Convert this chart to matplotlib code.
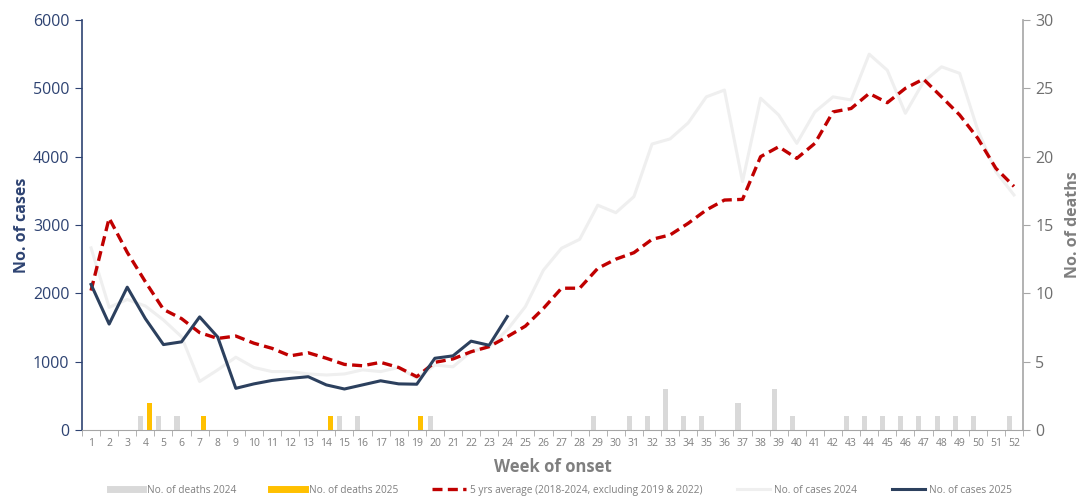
import matplotlib
matplotlib.use("Agg")
import matplotlib.pyplot as plt
from matplotlib.lines import Line2D
import numpy as np

plt.rcParams['font.family'] = ['Open Sans', 'DejaVu Sans']

weeks = list(range(1, 53))

cases_2025 = [2130, 1550, 2090, 1630, 1250, 1290, 1655, 1360, 610, 675,
              725, 755, 780, 660, 600, 660, 720, 675, 670, 1050,
              1085, 1300, 1240, 1660]

avg_5yr = [2040, 3100, 2600, 2170, 1765, 1630, 1425, 1340, 1375, 1270,
           1195, 1085, 1130, 1050, 960, 940, 990, 915, 780, 990,
           1040, 1145, 1220, 1365, 1520, 1780, 2075, 2075, 2365, 2500,
           2595, 2790, 2855, 3025, 3220, 3365, 3375, 4000, 4145, 3975,
           4195, 4655, 4705, 4925, 4790, 5000, 5135, 4875, 4610, 4270,
           3830, 3565]

cases_2024 = [2665, 1795, 1910, 1815, 1610, 1365, 710, 880, 1065, 915,
              855, 855, 820, 805, 820, 880, 855, 915, 755, 950,
              925, 1145, 1220, 1465, 1805, 2340, 2660, 2790, 3290, 3180,
              3415, 4185, 4260, 4495, 4875, 4975, 3635, 4855, 4610, 4195,
              4655, 4875, 4830, 5500, 5265, 4635, 5095, 5315, 5220, 4390,
              3780, 3440]

deaths_2024 = [0, 0, 0, 1, 1, 1, 0, 0, 0, 0,
               0, 0, 0, 0, 1, 1, 0, 0, 0, 1,
               0, 0, 0, 0, 0, 0, 0, 0, 1, 0,
               1, 1, 3, 1, 1, 0, 2, 0, 3, 1,
               0, 0, 1, 1, 1, 1, 1, 1, 1, 1,
               0, 1]

deaths_2025 = [0, 0, 0, 2, 0, 0, 1, 0, 0, 0,
               0, 0, 0, 1, 0, 0, 0, 0, 1, 0,
               0, 0, 0, 0]

navy = '#2c405e'
navy_txt = '#2e4372'
red = '#c00000'
yellow = '#ffc000'
bar_grey = '#d9d9d9'
line24 = '#efefef'
grey_txt = '#7f7f7f'
axis_grey = '#a6a6a6'

fig = plt.figure(figsize=(10.83, 4.97), dpi=100)
ax = fig.add_axes([82/1083, 67/497, (1023-82)/1083, 410/497])
ax2 = ax.twinx()

w = np.array(weeks)
w25 = np.arange(1, len(cases_2025) + 1)

# deaths bars on secondary axis
ax2.bar(w - 0.25, deaths_2024, width=0.28, color=bar_grey, zorder=1)
ax2.bar(np.arange(1, len(deaths_2025) + 1) + 0.22, deaths_2025, width=0.28, color=yellow, zorder=1)
ax2.set_ylim(0, 30)
ax2.set_yticks([0, 5, 10, 15, 20, 25, 30])

# lines on primary axis, drawn above bars
ax.set_zorder(ax2.get_zorder() + 1)
ax.patch.set_visible(False)
ax.plot(w, cases_2024, color=line24, lw=2.2, zorder=2)
ax.plot(w, avg_5yr, color=red, lw=2.4, ls=(0, (3, 1.6)), zorder=3)
ax.plot(w25, cases_2025, color=navy, lw=2.2, zorder=4)

ax.set_xlim(0.5, 52.5)
ax.set_ylim(0, 6000)
ax.set_yticks([0, 1000, 2000, 3000, 4000, 5000, 6000])
ax.set_xticks(weeks)
ax.set_xticks(np.arange(0.5, 53, 1), minor=True)
ax.tick_params(axis='x', which='major', length=0, labelsize=7.5, labelcolor=grey_txt, pad=6)
ax.tick_params(axis='x', which='minor', length=4, color=axis_grey, direction='out')
ax.tick_params(axis='y', length=5, color=navy_txt, labelsize=11.5, labelcolor=navy_txt, pad=4)
ax2.tick_params(axis='y', length=5, color=axis_grey, labelsize=11.5, labelcolor='#6f6f6f', pad=4)

for a in (ax, ax2):
    a.spines['top'].set_visible(False)
ax.spines['right'].set_visible(False)
ax2.spines['left'].set_visible(False)
ax2.spines['bottom'].set_visible(False)
ax.spines['left'].set_color(navy_txt)
ax.spines['left'].set_linewidth(1.2)
ax.spines['bottom'].set_color(axis_grey)
ax2.spines['right'].set_color(axis_grey)
ax2.spines['right'].set_linewidth(1.2)

ax.set_ylabel('No. of cases', color=navy_txt, fontsize=11.5, fontweight='bold', labelpad=2)
ax2.set_ylabel('No. of deaths', color=grey_txt, fontsize=11.5, fontweight='bold', labelpad=8)
ax.set_xlabel('Week of onset', color=grey_txt, fontsize=12, fontweight='bold', labelpad=6)

handles = [
    Line2D([0], [0], color=bar_grey, lw=5),
    Line2D([0], [0], color=yellow, lw=5),
    Line2D([0], [0], color=red, lw=2.4, ls=(0, (3, 1.6))),
    Line2D([0], [0], color=line24, lw=2.2),
    Line2D([0], [0], color=navy, lw=2.2),
]
labels = ['No. of deaths 2024', 'No. of deaths 2025',
          '5 yrs average (2018-2024, excluding 2019 & 2022)',
          'No. of cases 2024', 'No. of cases 2025']
leg = fig.legend(handles, labels, loc='lower center', bbox_to_anchor=(0.518, -0.016),
                 ncol=5, frameon=False, fontsize=7.3, handlelength=3.3,
                 columnspacing=3.4, handletextpad=0.4)
for t in leg.get_texts():
    t.set_color(grey_txt)

fig.savefig('out.png', dpi=100)
